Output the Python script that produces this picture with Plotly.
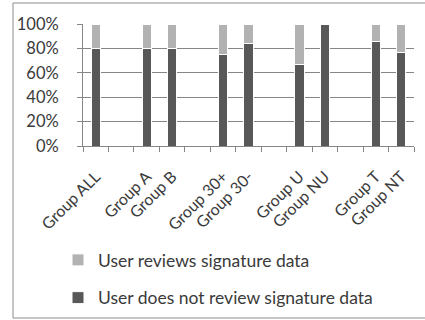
import plotly.graph_objects as go

# Categories (blank slots separate the groups)
categories = ["Group ALL", " ", "Group A", "Group B", "  ", "Group 30+", "Group 30-",
              "   ", "Group U", "Group NU", "    ", "Group T", "Group NT"]
# Share of users who do not review signature data (%)
no_review = [80, None, 80, 80, None, 75, 84, None, 67, 100, None, 86, 77]
# Share of users who review signature data (%)
review = [None if v is None else 100 - v for v in no_review]
y_ticks = [0, 20, 40, 60, 80, 100]
y_tick_labels = ["0%", "20%", "40%", "60%", "80%", "100%"]

DARK = "#585858"
LIGHT = "#b2b2b2"
FONT = "Lato"
TEXT = "#3a3a3a"

fig = go.Figure()
fig.add_trace(go.Bar(
    x=categories, y=no_review, name="User does not review signature data",
    marker=dict(color=DARK, line=dict(color="white", width=1)), width=0.36,
    legendgroup="no_review", legendrank=2,
))
fig.add_trace(go.Bar(
    x=categories, y=review, name="User reviews signature data",
    marker=dict(color=LIGHT, line=dict(color="white", width=1)), width=0.36,
    legendgroup="review", legendrank=1,
))

plot_l, plot_r, plot_t, plot_b = 83, 414, 24, 146
W, H = 425, 320
pw = plot_r - plot_l
ph = plot_b - plot_t

fig.update_layout(
    width=W, height=H,
    margin=dict(l=plot_l, r=W - plot_r, t=plot_t, b=H - plot_b, pad=0,
                autoexpand=False),
    barmode="stack",
    paper_bgcolor="white", plot_bgcolor="white",
    font=dict(family=FONT, size=16, color=TEXT),
    showlegend=True,
    legend=dict(
        x=(58 - plot_l) / pw, xanchor="left",
        y=(plot_b - 242) / ph, yanchor="top",
        orientation="v", traceorder="grouped",
        tracegroupgap=12,
        font=dict(family=FONT, size=17.5, color=TEXT),
        bgcolor="rgba(0,0,0,0)",
    ),
    xaxis=dict(
        type="category", tickangle=-45, tickson="boundaries",
        ticks="outside", ticklen=5, tickcolor="#868686",
        showline=True, linecolor="#868686", linewidth=1,
        showgrid=False, tickfont=dict(family=FONT, size=16, color=TEXT),
        ticklabelstandoff=14,
        range=[-0.5, len(categories) - 0.5],
    ),
    yaxis=dict(
        range=[0, 100], tickvals=y_ticks, ticktext=y_tick_labels,
        ticks="outside", ticklen=5, tickcolor="#868686",
        showline=True, linecolor="#868686", linewidth=1,
        showgrid=True, gridcolor="#868686", gridwidth=1,
        zeroline=False, tickfont=dict(family=FONT, size=16.5, color=TEXT),
        ticklabelstandoff=15,
    ),
    shapes=[dict(
        type="rect", xref="paper", yref="paper",
        x0=(13 - plot_l) / pw, x1=(432 - plot_l) / pw,
        y0=(plot_b - 318) / ph, y1=(plot_b - 3) / ph,
        line=dict(color="#8c8c8c", width=1), fillcolor="rgba(0,0,0,0)",
        layer="below",
    )],
)

fig.write_html("out.html")
